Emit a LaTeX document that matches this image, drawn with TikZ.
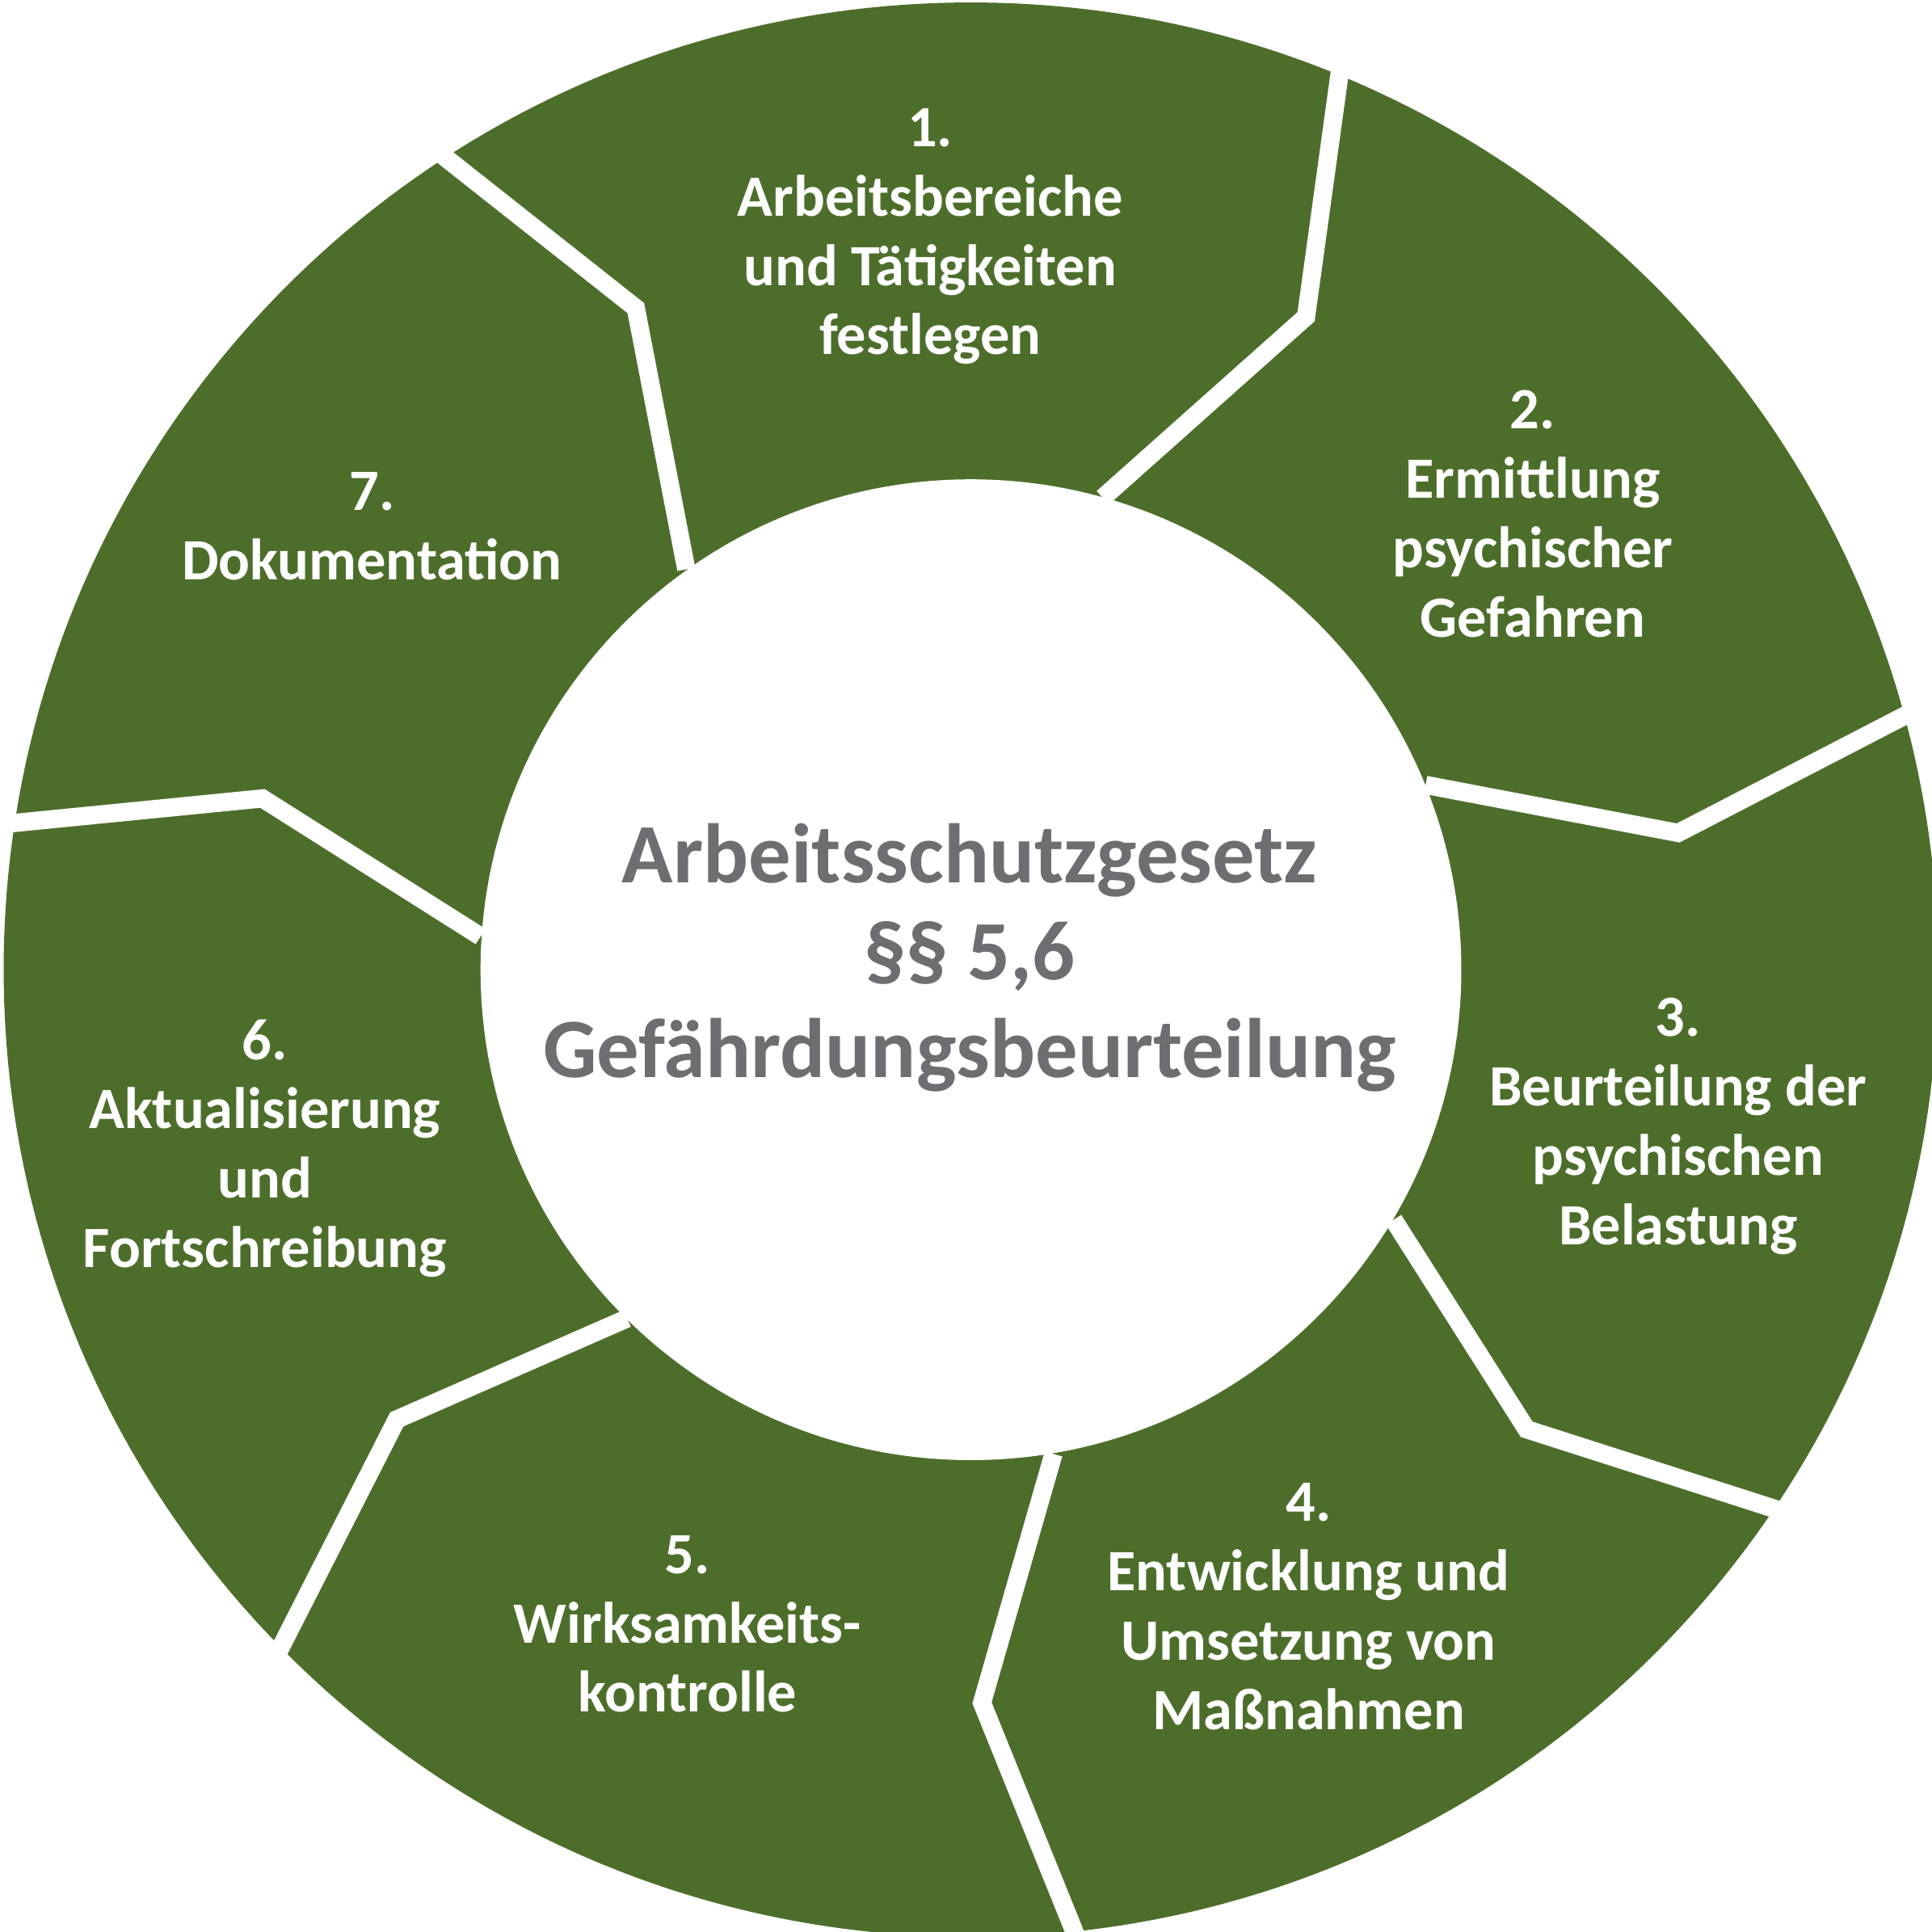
\documentclass[tikz,border=0pt]{standalone}
\usepackage{fontspec}
\setmainfont{Carlito}
\definecolor{segGreen}{HTML}{4D6E2B}
\definecolor{midGray}{HTML}{6D6E71}
\begin{document}
\begin{tikzpicture}[x=0.01cm,y=-0.01cm,
  gap/.style={white,line width=4.2pt,line join=miter},
  lab/.style={text=white,font=\bfseries\fontsize{13.5}{16}\selectfont,align=center,inner sep=0pt},
  ctr/.style={text=midGray,font=\bfseries\fontsize{19.5}{22.5}\selectfont,align=center,inner sep=0pt}]
\useasboundingbox[fill=white] (0,0) rectangle (1568,1568);
\coordinate (c) at (788,787);
\fill[segGreen] (c) circle[radius=785];
\draw[gap] (330,103) -- (516,250) -- (557,462);
\draw[gap] (1092,25) -- (1060,257) -- (895,404);
\draw[gap] (1590,558) -- (1362,676) -- (1157,637);
\draw[gap] (1470,1234) -- (1239,1160) -- (1131,990);
\draw[gap] (885,1600) -- (797,1382) -- (855,1180);
\draw[gap] (210,1372) -- (322,1152) -- (509,1070);
\draw[gap] (-30,672) -- (213,648) -- (390,760);
\fill[white] (c) circle[radius=398];
\node[lab] (s1) at (755,192) {1.\\Arbeitsbereiche\\und Tätigkeiten\\festlegen};
\node[lab] (s2) at (1244,417) {2.\\Ermittlung\\psychischer\\Gefahren};
\node[lab] (s3) at (1362,914) {3.\\Beurteilung der\\psychischen\\Belastung};
\node[lab] (s4) at (1062,1304) {4.\\Entwicklung und\\Umsetzung von\\Maßnahmen};
\node[lab] (s5) at (558,1318) {5.\\Wirksamkeits-\\kontrolle};
\node[lab] (s6) at (215,932) {6.\\Aktualisierung\\und\\Fortschreibung};
\node[lab] (s7) at (302,427) {7.\\Dokumentation};
\node[ctr] (mid) at (787,777) {Arbeitsschutzgesetz\\§§ 5,6\\Gefährdungsbeurteilung};
\end{tikzpicture}
\end{document}
